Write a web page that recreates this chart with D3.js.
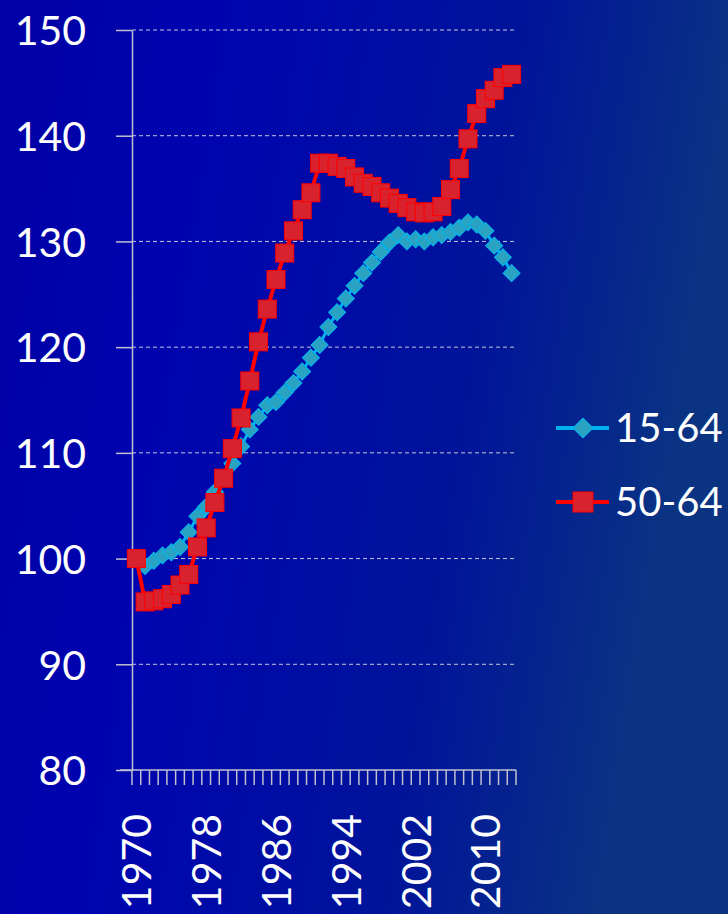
<!DOCTYPE html>
<meta charset="utf-8">
<style>
html, body { margin: 0; padding: 0; background: #0000a8; }
svg { display: block; }
.grid line { stroke: #c8c8d8; stroke-dasharray: 4,3; stroke-width: 1; }
.axis path, .axis line { stroke: #c0c0d0; stroke-width: 1.5; }
.axis text { fill: #fff; font-family: Lato, "Open Sans", sans-serif; font-size: 41px; }
</style>
<svg width="728" height="914"></svg>
<script src="https://cdnjs.cloudflare.com/ajax/libs/d3/7.8.5/d3.min.js"></script>
<script>

// years 1970-2013, index 1970 = 100
var years = d3.range(1970, 2014);

var age1564 = [100, 99.3, 99.8, 100.3, 100.6, 101.1, 102.5, 104.0, 104.9, 106.3,
               107.6, 109.0, 110.6, 112.2, 113.4, 114.5, 114.8, 115.7, 116.6, 117.7,
               119.0, 120.2, 121.9, 123.3, 124.6, 125.8, 127.0, 128.0, 129.0, 129.9,
               130.6, 130.0, 130.2, 130.0, 130.4, 130.6, 130.9, 131.3, 131.8, 131.6,
               131.0, 129.6, 128.5, 127.0];

var age5064 = [100, 95.9, 96.0, 96.2, 96.6, 97.5, 98.5, 101.1, 102.9, 105.3,
               107.6, 110.4, 113.3, 116.8, 120.5, 123.6, 126.4, 128.9, 131.0, 133.0,
               134.6, 137.4, 137.4, 137.1, 136.9, 136.1, 135.5, 135.2, 134.6, 134.1,
               133.6, 133.2, 132.8, 132.7, 132.8, 133.3, 134.9, 136.9, 139.7, 142.1,
               143.5, 144.3, 145.5, 145.8];

var yTicks = [80, 90, 100, 110, 120, 130, 140, 150];
var xLabels = [1970, 1978, 1986, 1994, 2002, 2010];
var seriesNames = ["15-64", "50-64"];

var svg = d3.select("svg"),
    width = +svg.attr("width"),
    height = +svg.attr("height");

// background
var defs = svg.append("defs");
var grad = defs.append("linearGradient")
    .attr("id", "bg")
    .attr("x1", "0%").attr("y1", "0%")
    .attr("x2", "100%").attr("y2", "20%");
grad.append("stop").attr("offset", "0%").attr("stop-color", "#0000a4");
grad.append("stop").attr("offset", "30%").attr("stop-color", "#0004b0");
grad.append("stop").attr("offset", "70%").attr("stop-color", "#00149a");
grad.append("stop").attr("offset", "100%").attr("stop-color", "#0a3482");
svg.append("rect").attr("width", width).attr("height", height).attr("fill", "url(#bg)");

var plotL = 132, plotR = 516, plotT = 30, plotB = 770;

var x = d3.scaleBand().domain(years).range([plotL, plotR]).padding(0);
var y = d3.scaleLinear().domain([80, 150]).range([plotB, plotT]);

function cx(i) { return x(years[i]) + x.bandwidth() / 2; }

// gridlines
svg.append("g")
    .attr("class", "grid")
    .selectAll("line")
    .data(yTicks.filter(function(d) { return d > 80; }))
    .enter().append("line")
    .attr("x1", plotL).attr("x2", plotR)
    .attr("y1", function(d) { return y(d); })
    .attr("y2", function(d) { return y(d); });

// y axis
var yAxis = svg.append("g")
    .attr("class", "axis")
    .attr("transform", "translate(" + plotL + ",0)")
    .call(d3.axisLeft(y).tickValues(yTicks).tickSize(16).tickPadding(30).tickSizeOuter(0));
yAxis.selectAll("text").attr("dy", "0.36em");

// x axis: ticks between categories
var xg = svg.append("g").attr("class", "axis");
xg.append("line")
    .attr("x1", plotL - 12).attr("x2", plotR)
    .attr("y1", plotB).attr("y2", plotB);
xg.selectAll("line.tk")
    .data(years.concat([2014]))
    .enter().append("line")
    .attr("class", "tk")
    .attr("x1", function(d, i) { return plotL + i * x.bandwidth(); })
    .attr("x2", function(d, i) { return plotL + i * x.bandwidth(); })
    .attr("y1", plotB).attr("y2", plotB + 15);
xg.selectAll("text")
    .data(xLabels)
    .enter().append("text")
    .attr("transform", function(d) {
        return "translate(" + (x(d) + x.bandwidth() / 2 + 15) + "," + (plotB + 44) + ") rotate(-90)";
    })
    .attr("text-anchor", "end")
    .text(function(d) { return d; });

var line = d3.line()
    .x(function(d, i) { return cx(i); })
    .y(function(d) { return y(d); });

// 15-64 series
svg.append("path")
    .datum(age1564)
    .attr("fill", "none")
    .attr("stroke", "#00b0f0")
    .attr("stroke-width", 3)
    .attr("d", line);

svg.append("g")
    .selectAll("rect")
    .data(age1564)
    .enter().append("rect")
    .attr("x", -6).attr("y", -6)
    .attr("width", 12).attr("height", 12)
    .attr("transform", function(d, i) {
        return "translate(" + cx(i) + "," + y(d) + ") rotate(45)";
    })
    .attr("fill", "#2aa2c2")
    .attr("stroke", "#00b8f0")
    .attr("stroke-width", 1);

// 50-64 series
svg.append("path")
    .datum(age5064)
    .attr("fill", "none")
    .attr("stroke", "#ff0000")
    .attr("stroke-width", 4)
    .attr("d", line);

svg.append("g")
    .selectAll("rect")
    .data(age5064)
    .enter().append("rect")
    .attr("x", function(d, i) { return cx(i) - 9; })
    .attr("y", function(d) { return y(d) - 9; })
    .attr("width", 18).attr("height", 18)
    .attr("fill", "#d8222e")
    .attr("stroke", "#ff0000")
    .attr("stroke-width", 1);

// legend
var legend = svg.append("g")
    .attr("font-family", "Lato, 'Open Sans', sans-serif")
    .attr("font-size", 40)
    .attr("fill", "#fff");

var l1 = legend.append("g").attr("transform", "translate(0,428)");
l1.append("line").attr("x1", 556).attr("x2", 609).attr("y1", 0).attr("y2", 0)
    .attr("stroke", "#00b0f0").attr("stroke-width", 4);
l1.append("rect").attr("x", -7).attr("y", -7).attr("width", 14).attr("height", 14)
    .attr("transform", "translate(583,0) rotate(45)")
    .attr("fill", "#2aa2c2").attr("stroke", "#00b8f0");
l1.append("text").attr("x", 615).attr("dy", "0.36em").text(seriesNames[0]);

var l2 = legend.append("g").attr("transform", "translate(0,502)");
l2.append("line").attr("x1", 556).attr("x2", 609).attr("y1", 0).attr("y2", 0)
    .attr("stroke", "#ff0000").attr("stroke-width", 4);
l2.append("rect").attr("x", 573).attr("y", -10).attr("width", 20).attr("height", 20)
    .attr("fill", "#d8222e").attr("stroke", "#ff0000");
l2.append("text").attr("x", 615).attr("dy", "0.36em").text(seriesNames[1]);

</script>
